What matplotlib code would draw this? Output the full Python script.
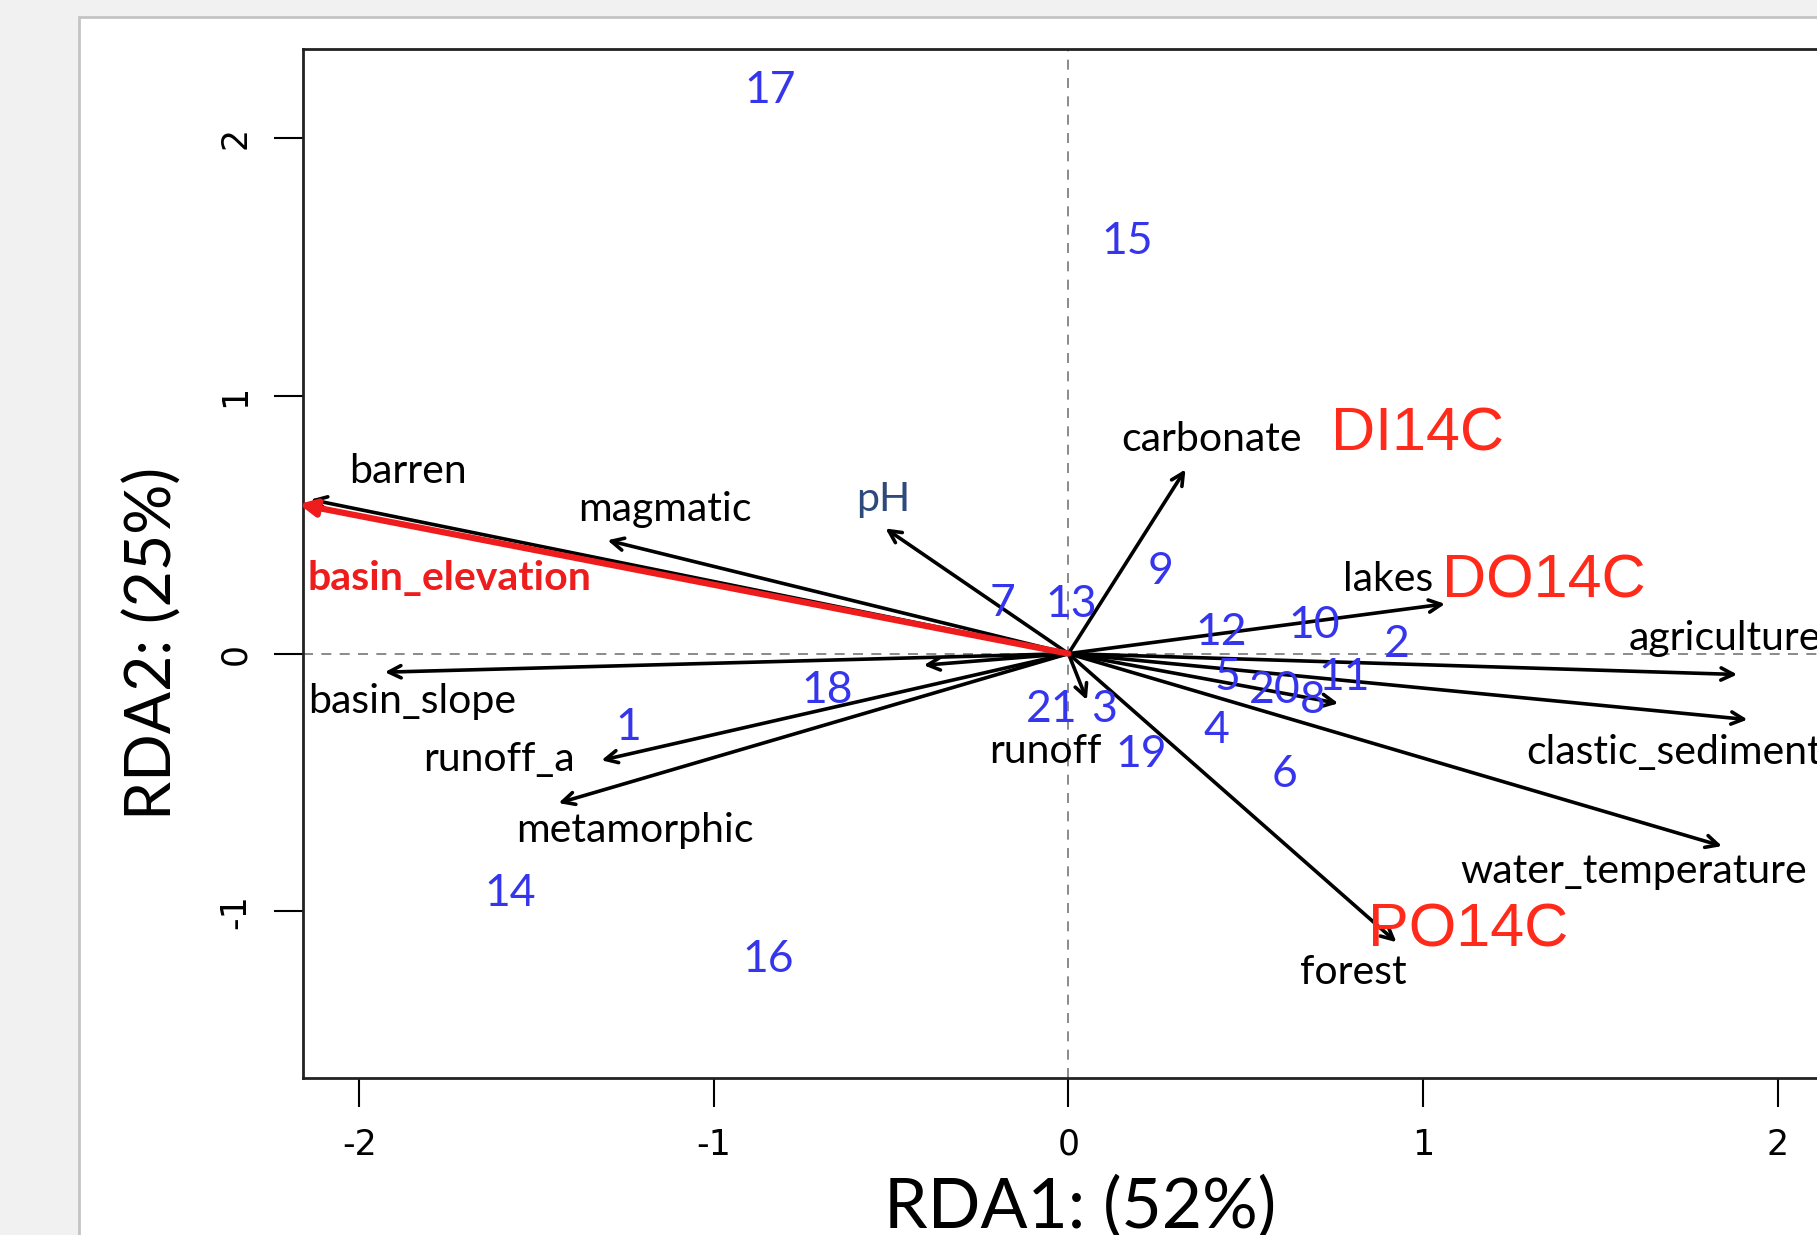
import matplotlib
matplotlib.use("Agg")
import matplotlib.pyplot as plt
from matplotlib.patches import Rectangle

plt.rcParams["axes.unicode_minus"] = False

# environmental variable arrows (biplot scores) and where their labels sit
env_names = ["barren", "magmatic", "pH", "carbonate", "lakes", "agriculture",
             "clastic_sediment", "water_temperature", "forest", "runoff",
             "", "", "basin_slope", "runoff_a", "metamorphic"]
env_x = [-2.137, -1.30, -0.516, 0.33, 1.062, 1.886, 1.915, 1.843, 0.925, 0.052,
         -0.408, 0.761, -1.928, -1.317, -1.438]
env_y = [0.598, 0.44, 0.486, 0.715, 0.193, -0.081, -0.256, -0.747, -1.12, -0.18,
         -0.045, -0.193, -0.072, -0.414, -0.58]
env_lab_x = [-1.863, -1.137, -0.523, 0.405, 0.902, 1.85, 1.709, 1.595, 0.804, -0.065,
             0, 0, -1.85, -1.605, -1.222]
env_lab_y = [0.706, 0.558, 0.598, 0.832, 0.288, 0.058, -0.382, -0.846, -1.237, -0.378,
             0, 0, -0.184, -0.409, -0.688]

# highlighted variable
elev_x, elev_y = -2.17, 0.58
elev_lab = (-1.745, 0.292)

# response variables
resp_names = ["DI14C", "DO14C", "PO14C"]
resp_x = [0.984, 1.34, 1.127]
resp_y = [0.85, 0.279, -1.075]

# sites
site_ids = ["17", "15", "9", "7", "13", "12", "10", "2", "5", "20", "8", "11",
            "21", "3", "19", "4", "6", "18", "1", "14", "16"]
site_x = [-0.84, 0.167, 0.261, -0.186, 0.007, 0.431, 0.693, 0.925, 0.448, 0.582, 0.69, 0.778,
          -0.046, 0.101, 0.206, 0.418, 0.608, -0.68, -1.242, -1.575, -0.846]
site_y = [2.186, 1.601, 0.319, 0.193, 0.189, 0.081, 0.108, 0.036, -0.094, -0.144, -0.18, -0.094,
          -0.216, -0.216, -0.391, -0.297, -0.468, -0.144, -0.288, -0.931, -1.188]

W, H = 1817, 1235
fig = plt.figure(figsize=(W / 100, H / 100), dpi=100)
fig.patch.set_facecolor("#f1f1f1")
fig.patches.append(Rectangle((79 / W, -0.1), 1.2, 1 - 17 / H + 0.1, transform=fig.transFigure,
                             facecolor="white", edgecolor="#c4c4c4", lw=2, zorder=-5))

xmin, xmax = -2.16, 2.35
ymin, ymax = -1.646, 2.348
left, top, bottom = 302.5 / W, 1 - 48.7 / H, 1 - 1077.7 / H
width = (xmax - xmin) * 354.6 / W
ax = fig.add_axes([left, bottom, width, top - bottom])
ax.set_xlim(xmin, xmax)
ax.set_ylim(ymin, ymax)
ax.set_facecolor("white")
for s in ax.spines.values():
    s.set_linewidth(2)
    s.set_color("#222222")

ax.set_xticks([-2, -1, 0, 1, 2])
ax.set_yticks([-1, 0, 1, 2])
tick_font = ["Liberation Sans Narrow", "DejaVu Sans"]
ax.tick_params(length=21, width=1.5, pad=15, labelsize=25)
for t in ax.get_xticklabels():
    t.set_family(tick_font)
for t in ax.get_yticklabels():
    t.set_family(tick_font)
    t.set_rotation(90)
    t.set_va("center")

ax.axhline(0, color="#777777", lw=1.2, ls=(0, (6, 5)), zorder=1)
ax.axvline(0, color="#777777", lw=1.2, ls=(0, (6, 5)), zorder=1)

lab_font = "Lato"
for name, x, y, lx, ly in zip(env_names, env_x, env_y, env_lab_x, env_lab_y):
    ax.annotate("", xy=(x, y), xytext=(0, 0), annotation_clip=False,
                arrowprops=dict(arrowstyle="->", lw=2.6, color="black",
                                mutation_scale=22, shrinkA=0, shrinkB=0))
    if name:
        col = "#2c4a7a" if name == "pH" else "black"
        ax.text(lx, ly, name, ha="center", va="center", fontsize=29.5,
                family=lab_font, color=col)

ax.annotate("", xy=(elev_x, elev_y), xytext=(0, 0), annotation_clip=False,
            arrowprops=dict(arrowstyle="-|>", lw=4.5, color="#ee1c1c",
                            mutation_scale=24, shrinkA=0, shrinkB=0), zorder=3)
ax.text(elev_lab[0], elev_lab[1], "basin_elevation", ha="center", va="center",
        fontsize=29.5, family=lab_font, fontweight="bold", color="#ee1c1c")

for name, x, y in zip(resp_names, resp_x, resp_y):
    ax.text(x, y, name, ha="center", va="center", fontsize=44,
            family="Liberation Sans", color="#ff2a1a", zorder=4)

for sid, x, y in zip(site_ids, site_x, site_y):
    ax.text(x, y, sid, ha="center", va="center", fontsize=32,
            family=lab_font, color="#3535ee", zorder=5)

fig.text(1080 / W, 1 - 1207 / H, "RDA1: (52%)", ha="center", va="center",
         fontsize=50, family=lab_font)
fig.text(153 / W, 1 - 643 / H, "RDA2: (25%)", ha="center", va="center",
         rotation=90, fontsize=45, family=lab_font)

fig.savefig("out.png", dpi=100, facecolor=fig.get_facecolor())
